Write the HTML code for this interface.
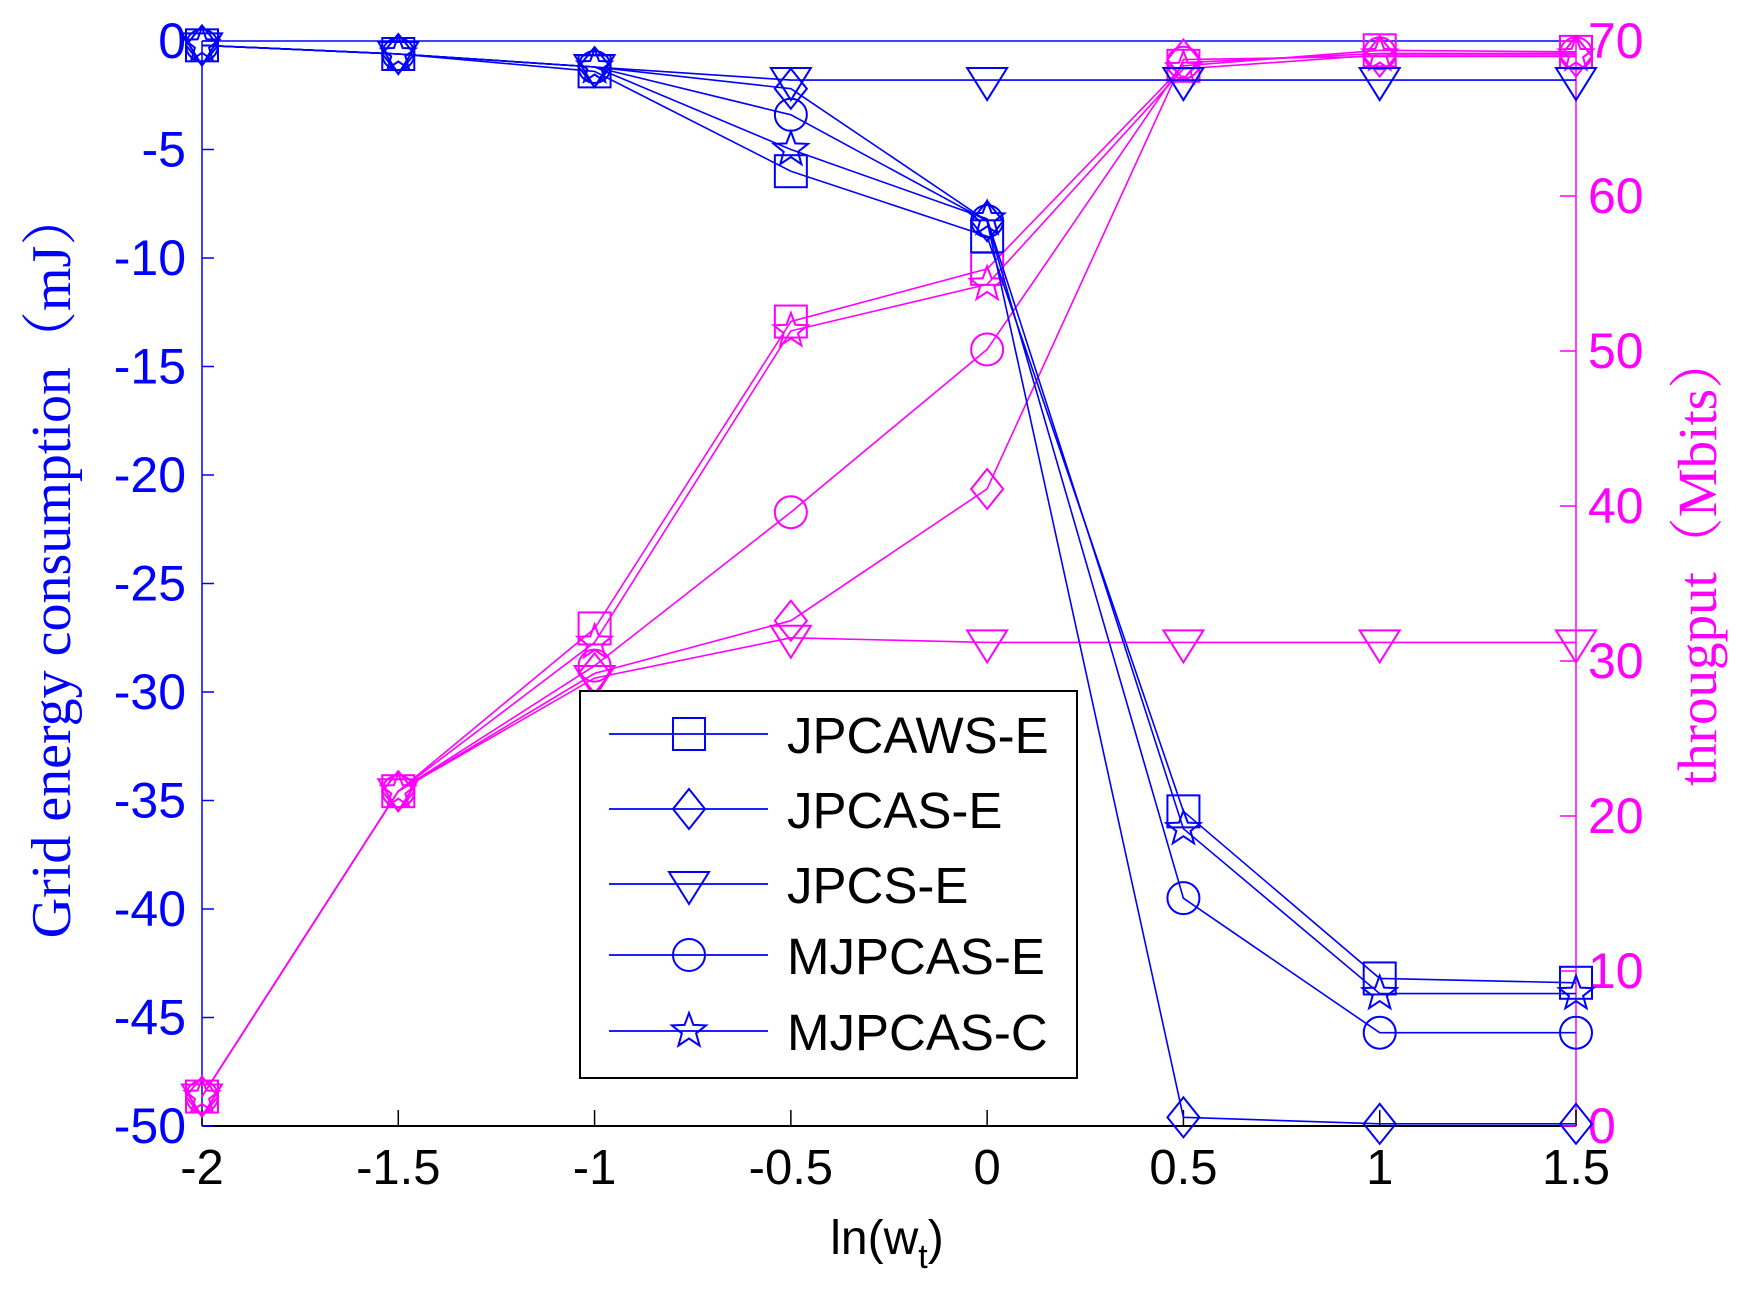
<!DOCTYPE html>
<html><head><meta charset="utf-8">
<style>html,body{margin:0;padding:0;background:#fff;}svg{display:block;}</style>
</head><body>
<svg id="s" width="1740" height="1295" xmlns="http://www.w3.org/2000/svg"></svg>
<script>
const S=document.getElementById('s');
const X0=202,X1=1576,YT=41,YB=1126;
const fx=v=>X0+(v+2)/3.5*(X1-X0);
const fl=v=>YT+(-v)/50*(YB-YT);
const fr=v=>YB-v/70*(YB-YT);
let h='';
const B='#0000ff',M='#ff00ff';
function mk(t,x,y,c){
 let a=`fill="none" stroke="${c}" stroke-width="2"`;
 if(t=='s')return `<rect x="${x-16}" y="${y-16}" width="32" height="32" ${a}/>`;
 if(t=='d')return `<polygon points="${x},${y-20} ${x+16},${y} ${x},${y+20} ${x-16},${y}" ${a}/>`;
 if(t=='v')return `<polygon points="${x-20},${y-12} ${x+20},${y-12} ${x},${y+20}" ${a}/>`;
 if(t=='o')return `<circle cx="${x}" cy="${y}" r="16" ${a}/>`;
 if(t=='p'){let p=[];for(let i=0;i<10;i++){let r=i%2?7.5:18,an=-Math.PI/2+i*Math.PI/5;p.push((x+r*Math.cos(an)).toFixed(1)+','+(y+r*Math.sin(an)).toFixed(1));}return `<polygon points="${p.join(' ')}" ${a}/>`;}
}
const xs=[-2,-1.5,-1,-0.5,0,0.5,1,1.5];
const E={s:[-0.2,-0.6,-1.4,-6,-9,-35.5,-43.2,-43.4],d:[-0.2,-0.6,-1.2,-2.2,-8.3,-49.6,-49.9,-49.9],v:[-0.2,-0.6,-1.2,-1.8,-1.8,-1.8,-1.8,-1.8],o:[-0.2,-0.6,-1.2,-3.4,-8.3,-39.5,-45.7,-45.7],p:[-0.2,-0.6,-1.2,-5,-8.2,-36.3,-43.9,-43.9]};
const T={s:[1.9,21.6,32.1,51.9,55.3,68.4,69.4,69.3],d:[1.9,21.6,29.2,32.6,41.1,68.8,69.0,69.0],v:[1.9,21.6,28.9,31.5,31.2,31.2,31.2,31.2],o:[1.9,21.6,29.7,39.6,50.1,68.6,69.2,69.2],p:[1.9,21.6,31.2,51.3,54.3,68.2,69.1,69.1]};
h+=`<line x1="${X0}" y1="${YT}" x2="${X1}" y2="${YT}" stroke="${B}" stroke-width="1.5"/>`;
h+=`<line x1="${X0}" y1="${YT}" x2="${X0}" y2="${YB}" stroke="${B}" stroke-width="1.5"/>`;
h+=`<line x1="${X1}" y1="${YT}" x2="${X1}" y2="${YB}" stroke="${M}" stroke-width="1.5"/>`;
h+=`<line x1="${X0}" y1="${YB}" x2="${X1}" y2="${YB}" stroke="#000" stroke-width="2"/>`;
const F='font-family="Liberation Sans, Arial, sans-serif"';
xs.forEach(v=>{let x=fx(v);h+=`<line x1="${x}" y1="${YB}" x2="${x}" y2="${YB-16}" stroke="#000" stroke-width="1.5"/>`;h+=`<text x="${x}" y="${YB+58}" ${F} font-size="49" text-anchor="middle" fill="#000">${v}</text>`;});
for(let v=0;v>=-50;v-=5){let y=fl(v);h+=`<line x1="${X0}" y1="${y}" x2="${X0+12}" y2="${y}" stroke="${B}" stroke-width="1.5"/>`;h+=`<text x="${186}" y="${y+17}" ${F} font-size="50" text-anchor="end" fill="${B}">${v}</text>`;}
for(let v=0;v<=70;v+=10){let y=fr(v);h+=`<line x1="${X1}" y1="${y}" x2="${X1-16}" y2="${y}" stroke="${M}" stroke-width="1.5"/>`;h+=`<text x="${1588}" y="${y+17}" ${F} font-size="50" fill="${M}">${v}</text>`;}
function series(D,f,c){for(const k in D){let pts=xs.map((x,i)=>fx(x).toFixed(1)+','+f(D[k][i]).toFixed(1)).join(' ');h+=`<polyline points="${pts}" fill="none" stroke="${c}" stroke-width="1.6"/>`;xs.forEach((x,i)=>h+=mk(k,fx(x),f(D[k][i]),c));}}
series(T,fr,M);
series(E,fl,B);
h+=`<rect x="580" y="691" width="497" height="387" fill="#fff" stroke="#000" stroke-width="2"/>`;
const L=[['s','JPCAWS-E'],['d','JPCAS-E'],['v','JPCS-E'],['o','MJPCAS-E'],['p','MJPCAS-C']];
const LY=[734,809,884,955,1031];
L.forEach((l,i)=>{let y=LY[i];h+=`<line x1="609" y1="${y}" x2="768" y2="${y}" stroke="${B}" stroke-width="1.8"/>`;h+=mk(l[0],689,y,B);h+=`<text x="787" y="${y+19}" ${F} font-size="51" fill="#000">${l[1]}</text>`;});
h+=`<text x="887" y="1254" ${F} font-size="48" text-anchor="middle" fill="#000">ln(w<tspan font-size="34" dy="14">t</tspan><tspan dy="-14">)</tspan></text>`;
h+=`<text transform="translate(70,564) rotate(-90)" font-family="Liberation Serif, 'Noto Serif CJK SC', serif" font-size="56" text-anchor="middle" fill="${B}">Grid energy consumption（mJ）</text>`;
h+=`<text transform="translate(1716,560) rotate(-90)" font-family="Liberation Serif, 'Noto Serif CJK SC', serif" font-size="55" text-anchor="middle" fill="${M}">througput（Mbits）</text>`;
S.innerHTML=h;
</script>
</body></html>
